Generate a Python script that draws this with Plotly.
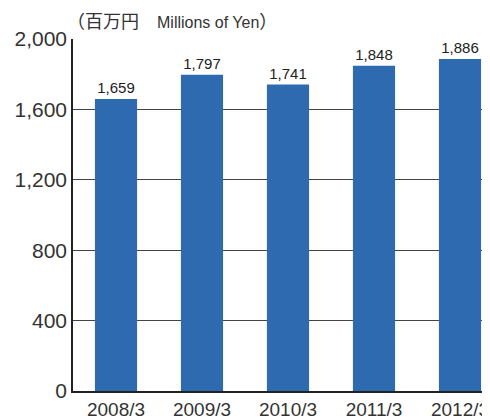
import plotly.graph_objects as go

categories = ["2008/3", "2009/3", "2010/3", "2011/3", "2012/3"]
values = [1659, 1797, 1741, 1848, 1886]
value_labels = ["1,659", "1,797", "1,741", "1,848", "1,886"]
y_ticks = [0, 400, 800, 1200, 1600, 2000]
y_tick_labels = ["0", "400", "800", "1,200", "1,600", "2,000"]
unit_title = ("<span style='font-size:18px'>（百万円　</span>Millions of Yen"
              "<span style='font-size:18px'>）</span>")

fig = go.Figure()
fig.add_trace(go.Bar(
    x=list(range(len(categories))),
    y=values,
    text=value_labels,
    textposition="outside",
    textfont=dict(size=15, color="#222222", family="Liberation Sans, Arial"),
    marker=dict(color="#2E6AAF", line=dict(width=0)),
    width=0.49,
    cliponaxis=False,
))

fig.update_layout(
    width=482, height=412,
    margin=dict(l=65, r=0, t=31, b=29),
    paper_bgcolor="white", plot_bgcolor="white",
    showlegend=False,
    font=dict(family="Liberation Sans, Arial, sans-serif", color="#333333"),
    xaxis=dict(
        tickmode="array",
        tickvals=list(range(len(categories))),
        ticktext=categories,
        range=[-0.5, 4.349],
        showgrid=False,
        showline=True, linecolor="#222222", linewidth=1.5,
        ticks="", tickfont=dict(size=19, color="#333333"),
        ticklabelstandoff=0,
        zeroline=False,
        automargin=False,
    ),
    yaxis=dict(
        range=[0, 2000],
        tickmode="array",
        tickvals=y_ticks,
        ticktext=y_tick_labels,
        showgrid=True, gridcolor="#444444", gridwidth=1,
        showline=True, linecolor="#222222", linewidth=1.5,
        ticks="", tickfont=dict(size=21, color="#333333"),
        ticklabelstandoff=0,
        zeroline=False,
        automargin=False,
    ),
    annotations=[dict(
        text=unit_title,
        xref="paper", yref="paper",
        x=-0.018, y=1.0, xanchor="left", yanchor="bottom",
        yshift=5,
        showarrow=False,
        font=dict(size=16, color="#333333", family="Liberation Sans, Noto Sans CJK JP, sans-serif"),
    )],
)
fig.update_yaxes(layer="below traces")

fig.write_html("out.html")
